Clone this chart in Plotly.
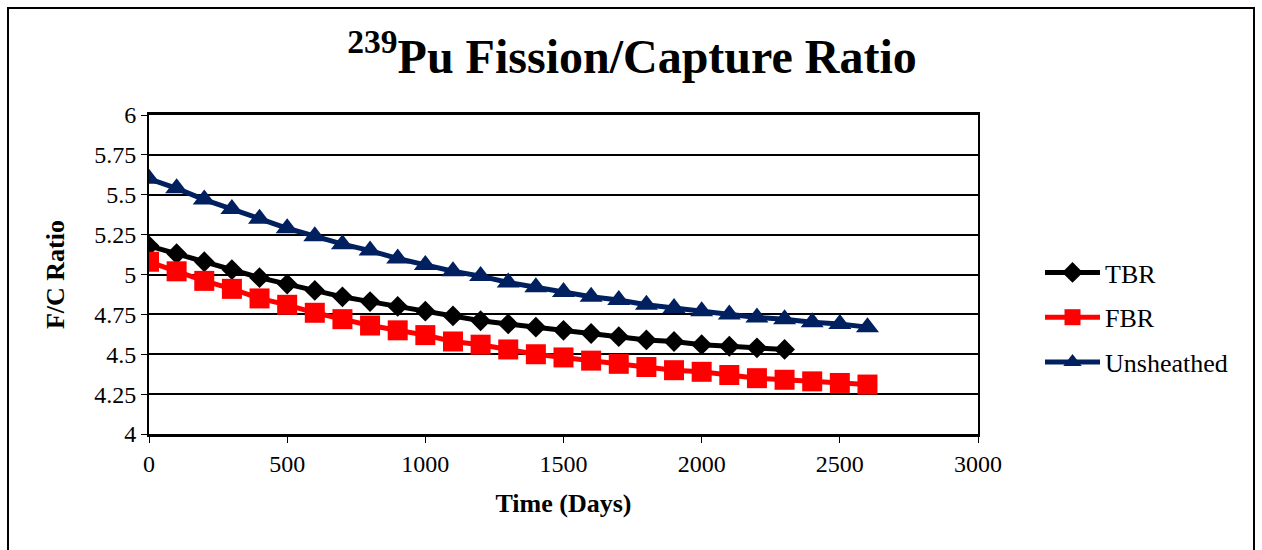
import plotly.graph_objects as go

# Burn-up time (days)
days_tbr = [0, 100, 200, 300, 400, 500, 600, 700, 800, 900, 1000, 1100, 1200,
            1300, 1400, 1500, 1600, 1700, 1800, 1900, 2000, 2100, 2200, 2300]
days_long = [0, 100, 200, 300, 400, 500, 600, 700, 800, 900, 1000, 1100, 1200,
             1300, 1400, 1500, 1600, 1700, 1800, 1900, 2000, 2100, 2200, 2300,
             2400, 2500, 2600]

# 239Pu fission/capture ratio per configuration
tbr = [5.18, 5.13, 5.08, 5.03, 4.98, 4.94, 4.90, 4.86, 4.83, 4.80, 4.77, 4.74,
       4.71, 4.69, 4.67, 4.65, 4.63, 4.61, 4.59, 4.58, 4.56, 4.55, 4.54, 4.53]
fbr = [5.08, 5.02, 4.96, 4.91, 4.85, 4.81, 4.76, 4.72, 4.68, 4.65, 4.62, 4.58,
       4.56, 4.53, 4.50, 4.48, 4.46, 4.44, 4.42, 4.40, 4.39, 4.37, 4.35, 4.34,
       4.33, 4.32, 4.31]
unsheathed = [5.60, 5.54, 5.47, 5.41, 5.35, 5.29, 5.24, 5.19, 5.15, 5.10, 5.06,
              5.02, 4.99, 4.95, 4.92, 4.89, 4.86, 4.84, 4.81, 4.79, 4.77, 4.75,
              4.73, 4.72, 4.70, 4.69, 4.67]

x_ticks = [0, 500, 1000, 1500, 2000, 2500, 3000]
y_ticks = [4, 4.25, 4.5, 4.75, 5, 5.25, 5.5, 5.75, 6]
y_tick_text = ["4", "4.25", "4.5", "4.75", "5", "5.25", "5.5", "5.75", "6"]

FONT = "Liberation Serif, Times New Roman, serif"
W, H = 1262, 550
L, R, T, B = 149, 284, 115, 116

fig = go.Figure()
series = [
    ("TBR", days_tbr, tbr, "#000000", "diamond", 16),
    ("FBR", days_long, fbr, "#FF0000", "square", 20),
    ("Unsheathed", days_long, unsheathed, "#002060", "triangle-up", 20),
]
for name, xs, ys, color, symbol, size in series:
    fig.add_trace(go.Scatter(
        x=xs, y=ys, name=name, mode="lines+markers", legendgroup=name,
        line=dict(color=color, width=5),
        marker=dict(symbol=symbol, size=size, color=color),
    ))

# outer chart frame, expressed in paper coordinates
pw, ph = W - L - R, H - T - B
def px_x(p):
    return (p - L) / pw
def px_y(p):
    return (H - B - p) / ph

fig.add_shape(type="rect", xref="paper", yref="paper",
              x0=px_x(8), x1=px_x(1254), y0=px_y(553), y1=px_y(8),
              line=dict(color="black", width=2), layer="below")

fig.update_layout(
    width=W, height=H,
    margin=dict(l=L, r=R, t=T, b=B),
    paper_bgcolor="white", plot_bgcolor="white",
    font=dict(family=FONT, color="black", size=24),
    title=dict(text="<sup>239</sup>Pu Fission/Capture Ratio",
               font=dict(family=FONT, size=48, color="black", weight="bold"),
               x=632 / W, xanchor="center",
               y=1 - 56 / H, yanchor="middle"),
    showlegend=True,
    legend=dict(x=px_x(1040), y=px_y(249), xanchor="left", yanchor="top",
                font=dict(family=FONT, size=26), tracegroupgap=8,
                itemwidth=55, bgcolor="rgba(0,0,0,0)"),
    xaxis=dict(range=[0, 3000], tickvals=x_ticks, showgrid=False,
               showline=True, linecolor="black", linewidth=3, mirror=True,
               ticks="outside", ticklen=6, tickcolor="black",
               zeroline=False,
               title=dict(text="<b>Time (Days)</b>", standoff=19,
                          font=dict(family=FONT, size=26))),
    yaxis=dict(range=[4, 6], tickvals=y_ticks, ticktext=y_tick_text,
               showgrid=True, gridcolor="black", gridwidth=1.5,
               showline=True, linecolor="black", linewidth=2, mirror=True,
               ticks="outside", ticklen=6, tickcolor="black",
               zeroline=False,
               title=dict(text="<b>F/C Ratio</b>", standoff=22,
                          font=dict(family=FONT, size=26))),
)

fig.write_html("out.html")
